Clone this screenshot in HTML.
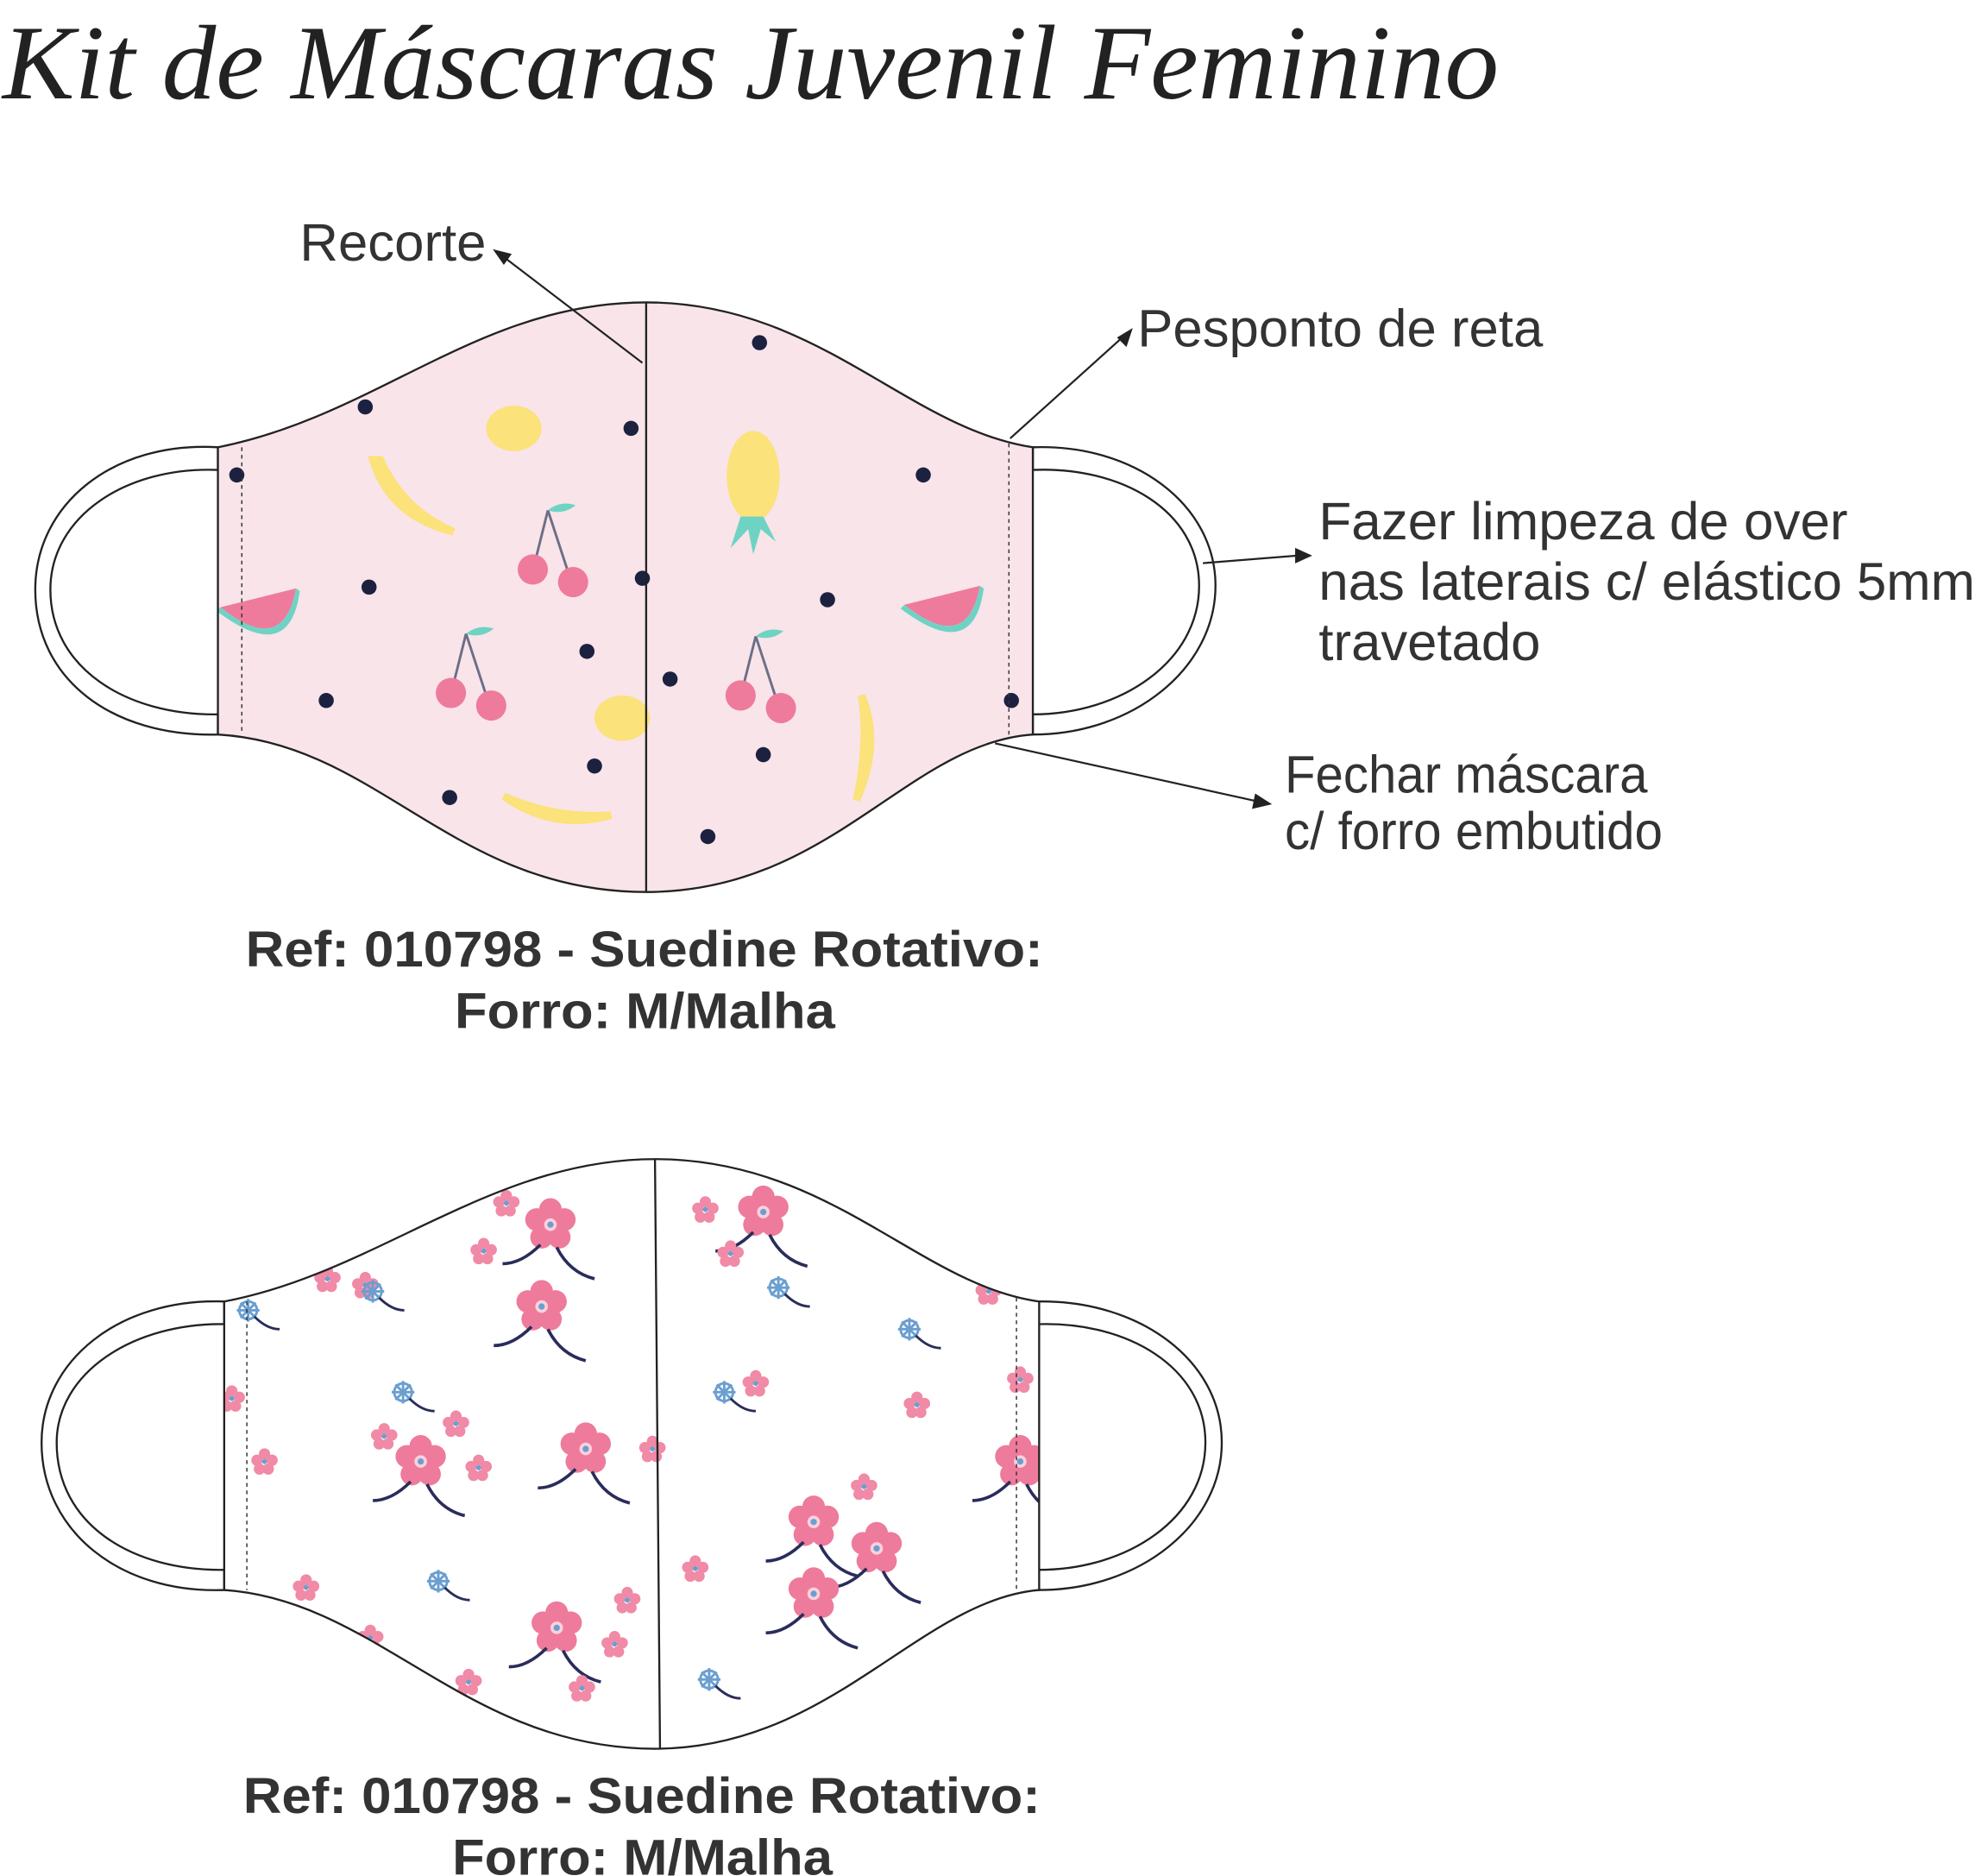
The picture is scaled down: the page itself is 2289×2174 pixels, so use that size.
<!DOCTYPE html>
<html><head><meta charset="utf-8"><style>
html,body{margin:0;padding:0;background:#fff;}
svg{display:block;}
</style></head><body>
<svg width="2289" height="2174" viewBox="0 0 1568 1489" preserveAspectRatio="none" xmlns="http://www.w3.org/2000/svg">
<defs>
<clipPath id="c1"><path d="M173,355 C300,330 380,240 513,240 C650,240 720,340 820,355 L820,583 C720,590 660,708 513,708 C360,708 300,590 173,583 Z"/></clipPath>
<clipPath id="c2"><path d="M178,1033 C300,1010 390,920 520,920 C660,920 730,1020 825,1033 L825,1262 C730,1270 660,1388 520,1388 C370,1388 300,1270 178,1262 Z"/></clipPath>
<g id="cherry"><path d="M0,-45 L-10,-5 M0,-45 L18,10" stroke="#6b6f87" stroke-width="2" fill="none"/><path d="M0,-45 q10,-8 22,-4 q-10,8 -22,4z" fill="#6fd3c4"/><circle cx="-12" cy="2" r="12" fill="#ee7b9b"/><circle cx="20" cy="12" r="12" fill="#ee7b9b"/></g>
<g id="melon"><path d="M-30,-15 L30,-30 Q20,25 -30,-15Z" fill="#ee7b9b"/><path d="M-30,-15 Q20,25 30,-30 L33,-28 Q25,32 -33,-12Z" fill="#6fd3c4"/></g>
<g id="fl"><g fill="#ee7b9b"><circle cx="0" cy="-12" r="9"/><circle cx="11" cy="-4" r="9"/><circle cx="7" cy="10" r="9"/><circle cx="-7" cy="10" r="9"/><circle cx="-11" cy="-4" r="9"/></g><circle r="5" fill="#fbd0dc"/><circle r="2.5" fill="#6a9fd0"/><path d="M5,18 q10,20 30,25 M-8,16 q-15,15 -30,15" stroke="#2a2d5a" stroke-width="2.5" fill="none"/></g>
<g id="fs"><g fill="#f08aa6"><circle cx="0" cy="-6" r="4.5"/><circle cx="6" cy="-1" r="4.5"/><circle cx="3" cy="6" r="4.5"/><circle cx="-4" cy="6" r="4.5"/><circle cx="-6" cy="-1" r="4.5"/></g><circle r="2" fill="#6a9fd0"/></g>
<g id="fb"><g fill="none" stroke="#6a9fd0" stroke-width="2"><circle r="7"/><path d="M0,-9 V9 M-9,0 H9 M-6,-6 L6,6 M6,-6 L-6,6"/></g><path d="M5,5 q10,10 20,10" stroke="#2a2d5a" stroke-width="2" fill="none"/></g>
</defs>

<text x="2" y="78" font-family="Liberation Serif, serif" font-style="italic" font-size="84" fill="#222" textLength="1188" lengthAdjust="spacingAndGlyphs">Kit de Máscaras Juvenil Feminino</text>

<!-- Mask 1 -->
<path d="M173,355 C90,350 28,400 28,468 C28,540 90,585 173,583 L173,567 C100,568 40,530 40,468 C40,410 100,370 173,373 Z" fill="#fff" stroke="#222" stroke-width="1.6"/>
<path d="M820,355 C900,352 965,400 965,465 C965,530 900,583 820,583 L820,567 C890,567 952,525 952,465 C952,405 890,370 820,373 Z" fill="#fff" stroke="#222" stroke-width="1.6"/>
<g clip-path="url(#c1)">
<rect x="170" y="230" width="660" height="490" fill="#f8e4e9"/>
<g fill="#1c2140">
<circle cx="290" cy="323" r="6"/><circle cx="501" cy="340" r="6"/><circle cx="603" cy="272" r="6"/><circle cx="188" cy="377" r="6"/><circle cx="733" cy="377" r="6"/><circle cx="293" cy="466" r="6"/><circle cx="510" cy="459" r="6"/><circle cx="657" cy="476" r="6"/><circle cx="466" cy="517" r="6"/><circle cx="532" cy="539" r="6"/><circle cx="259" cy="556" r="6"/><circle cx="803" cy="556" r="6"/><circle cx="606" cy="599" r="6"/><circle cx="472" cy="608" r="6"/><circle cx="357" cy="633" r="6"/><circle cx="562" cy="664" r="6"/>
</g>
<ellipse cx="408" cy="340" rx="22" ry="18" fill="#fbe27a"/>
<ellipse cx="494" cy="570" rx="22" ry="18" fill="#fbe27a"/>
<ellipse cx="598" cy="378" rx="21" ry="36" fill="#fbe27a"/>
<path d="M588,410 l-8,25 l14,-15 l4,20 l6,-20 l12,10 l-10,-20z" fill="#6fd3c4"/>
<path d="M296,365 Q310,410 360,422 Q320,405 302,365Z" fill="#fbe27a" stroke="#fbe27a" stroke-width="6"/>
<path d="M400,632 Q440,660 485,647 Q440,650 400,632Z" fill="#fbe27a" stroke="#fbe27a" stroke-width="6"/>
<path d="M684,552 Q700,590 680,635 Q690,590 684,552Z" fill="#fbe27a" stroke="#fbe27a" stroke-width="6"/>
<use href="#cherry" x="435" y="450"/>
<use href="#cherry" x="370" y="548"/>
<use href="#cherry" x="600" y="550"/>
<use href="#melon" x="205" y="497"/>
<use href="#melon" x="748" y="495"/>
</g>
<path d="M173,355 C300,330 380,240 513,240 C650,240 720,340 820,355 L820,583 C720,590 660,708 513,708 C360,708 300,590 173,583 Z" fill="none" stroke="#222" stroke-width="1.6"/>
<line x1="513" y1="240" x2="513" y2="708" stroke="#222" stroke-width="1.6"/>
<line x1="192" y1="355" x2="192" y2="583" stroke="#333" stroke-width="1" stroke-dasharray="3,3"/>
<line x1="801" y1="352" x2="801" y2="585" stroke="#333" stroke-width="1" stroke-dasharray="3,3"/>

<!-- annotations -->
<g font-family="Liberation Sans, sans-serif" font-size="42" fill="#333" lengthAdjust="spacingAndGlyphs">
<text x="238" y="207" textLength="148" lengthAdjust="spacingAndGlyphs">Recorte</text>
<text x="903" y="275" textLength="322" lengthAdjust="spacingAndGlyphs">Pesponto de reta</text>
<text x="1047" y="428" textLength="420" lengthAdjust="spacingAndGlyphs">Fazer limpeza de over</text>
<text x="1047" y="476" textLength="521" lengthAdjust="spacingAndGlyphs">nas laterais c/ elástico 5mm</text>
<text x="1047" y="524" textLength="176" lengthAdjust="spacingAndGlyphs">travetado</text>
<text x="1020" y="629" textLength="288" lengthAdjust="spacingAndGlyphs">Fechar máscara</text>
<text x="1020" y="674" textLength="300" lengthAdjust="spacingAndGlyphs">c/ forro embutido</text>
</g>
<g stroke="#222" stroke-width="1.5" fill="#222">
<line x1="510" y1="288" x2="400" y2="204"/><path d="M393,199 l12,3 l-5,7z"/>
<line x1="802" y1="348" x2="892" y2="267"/><path d="M898,262 l-4,12 l-6,-6z"/>
<line x1="955" y1="447" x2="1030" y2="441"/><path d="M1040,441 l-11,-5 l0,10z"/>
<line x1="790" y1="590" x2="998" y2="636"/><path d="M1008,638 l-11,-7 l-2,10z"/>
</g>

<g font-family="Liberation Sans, sans-serif" font-size="40" font-weight="bold" fill="#333">
<text x="195" y="767" textLength="633" lengthAdjust="spacingAndGlyphs">Ref: 010798 - Suedine Rotativo:</text>
<text x="361" y="816" textLength="302" lengthAdjust="spacingAndGlyphs">Forro: M/Malha</text>
<text x="193" y="1439" textLength="633" lengthAdjust="spacingAndGlyphs">Ref: 010798 - Suedine Rotativo:</text>
<text x="359" y="1488" textLength="302" lengthAdjust="spacingAndGlyphs">Forro: M/Malha</text>
</g>

<!-- Mask 2 -->
<path d="M178,1033 C95,1030 33,1080 33,1145 C33,1215 95,1265 178,1262 L178,1246 C105,1247 45,1210 45,1145 C45,1090 105,1050 178,1051 Z" fill="#fff" stroke="#222" stroke-width="1.6"/>
<path d="M825,1033 C905,1032 970,1080 970,1145 C970,1210 905,1262 825,1262 L825,1246 C895,1246 957,1205 957,1145 C957,1085 895,1049 825,1051 Z" fill="#fff" stroke="#222" stroke-width="1.6"/>
<g clip-path="url(#c2)">
<rect x="170" y="910" width="670" height="490" fill="#fff"/>
<use href="#fl" x="437" y="972"/><use href="#fl" x="430" y="1037"/><use href="#fl" x="606" y="962"/>
<use href="#fl" x="334" y="1160"/><use href="#fl" x="465" y="1150"/><use href="#fl" x="442" y="1292"/>
<use href="#fl" x="696" y="1229"/><use href="#fl" x="646" y="1265"/><use href="#fl" x="646" y="1208"/><use href="#fl" x="810" y="1160"/>
<use href="#fs" x="384" y="993"/><use href="#fs" x="580" y="995"/><use href="#fs" x="402" y="955"/><use href="#fs" x="560" y="960"/>
<use href="#fs" x="290" y="1020"/><use href="#fs" x="260" y="1015"/><use href="#fs" x="362" y="1130"/><use href="#fs" x="305" y="1140"/>
<use href="#fs" x="380" y="1165"/><use href="#fs" x="518" y="1150"/><use href="#fs" x="488" y="1305"/><use href="#fs" x="372" y="1335"/>
<use href="#fs" x="462" y="1340"/><use href="#fs" x="184" y="1110"/><use href="#fs" x="210" y="1160"/><use href="#fs" x="243" y="1260"/>
<use href="#fs" x="600" y="1098"/><use href="#fs" x="728" y="1115"/><use href="#fs" x="552" y="1245"/><use href="#fs" x="686" y="1180"/>
<use href="#fs" x="810" y="1095"/><use href="#fs" x="785" y="1025"/><use href="#fs" x="498" y="1270"/><use href="#fs" x="294" y="1300"/>
<use href="#fb" x="197" y="1040"/><use href="#fb" x="722" y="1055"/><use href="#fb" x="348" y="1255"/><use href="#fb" x="563" y="1333"/>
<use href="#fb" x="575" y="1105"/><use href="#fb" x="320" y="1105"/><use href="#fb" x="296" y="1025"/><use href="#fb" x="618" y="1022"/>
</g>
<path d="M178,1033 C300,1010 390,920 520,920 C660,920 730,1020 825,1033 L825,1262 C730,1270 660,1388 520,1388 C370,1388 300,1270 178,1262 Z" fill="none" stroke="#222" stroke-width="1.6"/>
<line x1="520" y1="920" x2="524" y2="1388" stroke="#222" stroke-width="1.6"/>
<line x1="196" y1="1033" x2="196" y2="1262" stroke="#333" stroke-width="1" stroke-dasharray="3,3"/>
<line x1="807" y1="1030" x2="807" y2="1265" stroke="#333" stroke-width="1" stroke-dasharray="3,3"/>
</svg>
</body></html>
